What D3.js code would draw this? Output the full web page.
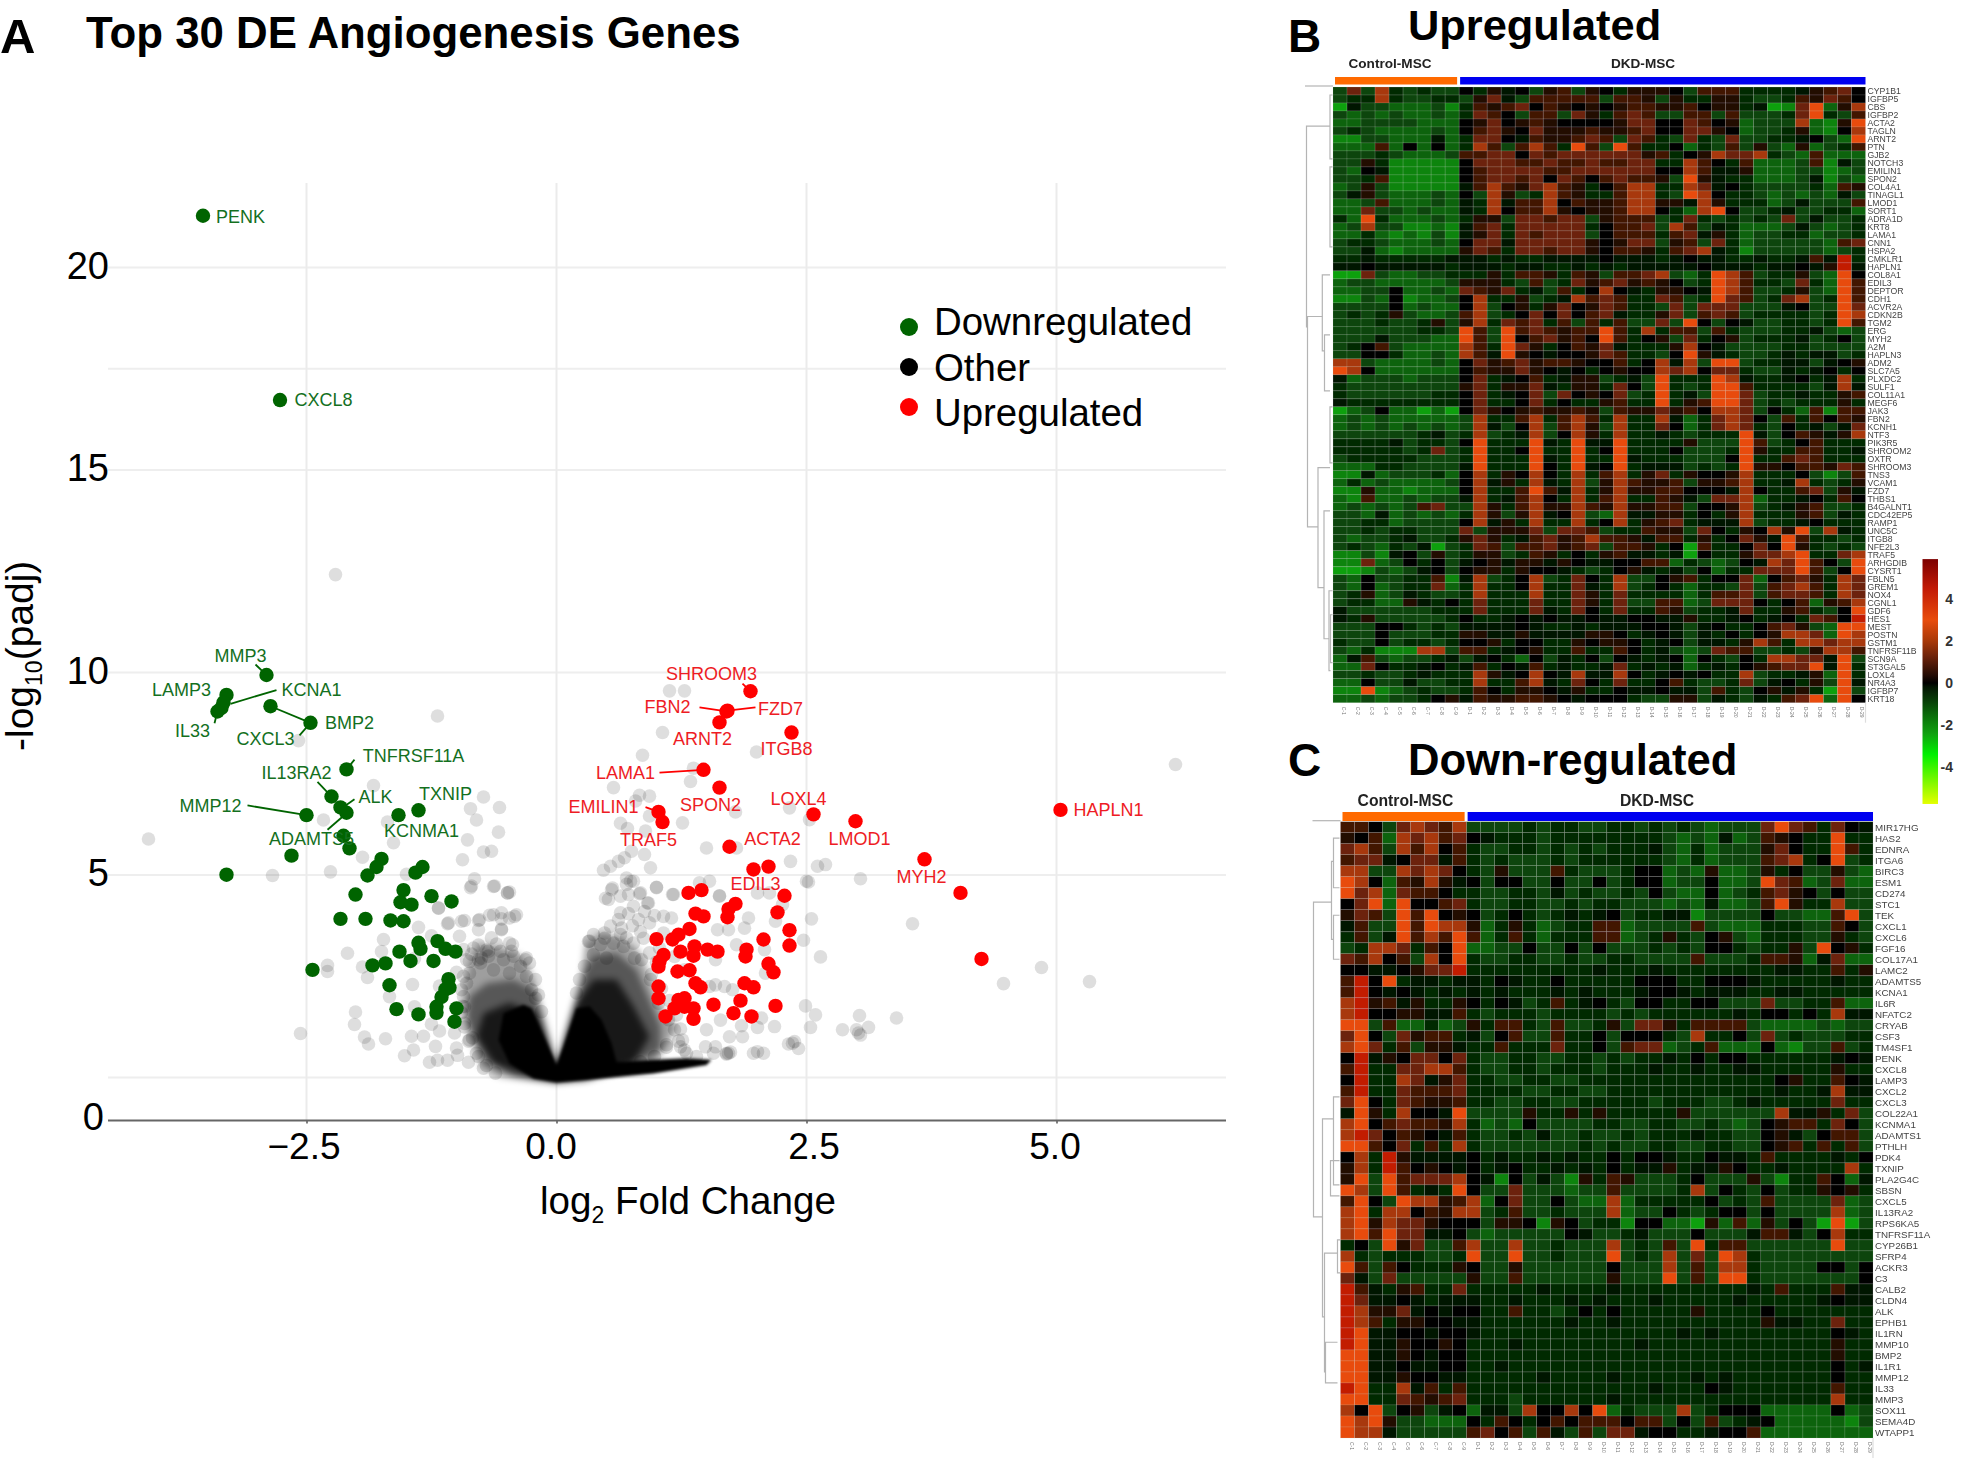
<!DOCTYPE html>
<html><head><meta charset="utf-8">
<script src="https://cdn.jsdelivr.net/npm/d3@7/dist/d3.min.js"></script>
<style>html,body{margin:0;padding:0;background:#fff}svg{display:block;font-family:"Liberation Sans",Arial,sans-serif}</style>
</head><body><div id="c"></div>
<script>
// ---------- volcano data (log2FC, -log10 padj) ----------
const downPoints=[[-3.535,21.28],[-2.765,16.73],[-2.90,9.94],[-3.30,9.45],[-3.33,9.26],[-3.35,9.13],[-3.39,9.04],[-2.86,9.17],[-2.46,8.76],[-2.10,7.61],[-2.25,6.94],[-2.16,6.67],[-2.10,6.54],[-2.50,6.48],[-1.38,6.60],[-1.58,6.48],[-2.13,5.97],[-2.07,5.66],[-2.65,5.48],[-3.30,5.01],[-1.75,5.40],[-1.80,5.20],[-1.89,4.99],[-1.34,5.20],[-1.41,5.06],[-2.01,4.52],[-1.53,4.63],[-1.56,4.33],[-1.45,4.27],[-1.25,4.48],[-1.05,4.35],[-2.16,3.92],[-1.91,3.92],[-1.66,3.88],[-1.53,3.86],[-1.38,3.33],[-1.36,3.18],[-1.19,3.37],[-1.11,3.18],[-1.01,3.11],[-1.57,3.11],[-1.46,2.88],[-1.23,2.88],[-1.71,2.82],[-1.84,2.77],[-2.44,2.66],[-1.67,2.28],[-1.08,2.43],[-1.07,2.22],[-1.11,2.18],[-1.15,1.99],[-1.60,1.69],[-1.38,1.56],[-1.20,1.75],[-1.20,1.60],[-1.0,1.71],[-1.02,1.38]];
const upPoints=[[5.04,6.61],[1.94,9.54],[1.70,9.04],[1.71,9.06],[1.63,8.77],[2.35,8.52],[1.47,7.60],[1.63,7.16],[2.57,6.50],[2.99,6.33],[1.02,6.56],[1.06,6.31],[1.73,5.70],[3.68,5.39],[4.04,4.56],[4.25,2.93],[1.97,5.14],[2.12,5.21],[2.28,4.49],[1.32,4.56],[1.45,4.63],[1.79,4.29],[1.72,4.16],[1.71,3.96],[2.21,4.08],[1.39,4.05],[1.47,3.98],[2.33,3.64],[2.33,3.26],[2.07,3.41],[1.33,3.67],[1.22,3.53],[1.16,3.41],[1.0,3.42],[1.38,3.24],[1.24,3.11],[1.37,3.01],[1.51,3.16],[1.61,3.11],[1.9,3.16],[1.89,2.99],[1.07,3.03],[1.03,2.87],[1.02,2.74],[2.12,2.81],[2.17,2.6],[1.21,2.62],[1.33,2.65],[1.39,2.33],[1.44,2.23],[1.88,2.33],[1.97,2.23],[1.02,2.25],[1.02,1.96],[1.57,1.8],[1.84,1.9],[2.19,1.77],[1.22,1.92],[1.28,1.96],[1.37,1.71],[1.18,1.71],[1.09,1.51],[1.28,1.75],[1.37,1.45],[1.77,1.59],[1.95,1.51]];
const otherPoints=[[-2.21,12.42],[-1.19,8.93],[-4.08,5.89],[-2.84,4.99],[-2.26,5.08],[-2.58,8.32],[-1.83,7.21],[-.73,6.93],[-.86,6.64],[-.57,6.67],[-.80,6.36],[-.58,6.06],[-.89,5.87],[-1.63,5.80],[-1.69,6.31],[-2.33,6.36],[-.65,5.59],[-.73,5.57],[-.94,5.38],[-1.94,5.44],[-.82,4.91],[-.86,4.69],[-.63,4.72],[-.49,4.56],[-.47,4.58],[-1.50,5.02],[-1.18,4.18],[-.67,4.01],[-.42,3.98],[-.55,3.92],[-1.09,3.80],[-.78,3.88],[-.92,3.88],[-1.38,3.71],[-1.25,3.50],[-1.73,3.41],[-1.75,3.11],[-2.09,3.07],[-.44,3.28],[-.55,3.67],[-2.29,2.77],[-2.29,2.62],[-1.94,2.73],[-1.89,2.47],[-1.44,2.30],[-1.67,2.0],[-2.01,1.62],[-2.02,1.31],[-2.56,1.09],[-1.92,1.0],[-1.88,.83],[-1.71,.96],[-1.45,1.02],[-1.33,1.02],[-1.43,.68],[-1.52,.54],[-1.27,.38],[-1.19,.43],[-1.09,.43],[-1.0,.73],[-1.21,.77],[-.88,.38],[-1.25,1.32],[-1.17,1.15],[-1.42,1.75],[-.84,.98],[-1.0,2.6],[-1.17,2.26],[-1.42,2.94],
[-.85,4.73],[-.62,4.73],[-.49,4.56],[-1.18,4.19],[-1.08,3.82],[-.95,3.86],[-.77,3.90],[-.63,4.02],[-.55,4.07],[-.40,4.02],[-.47,3.94],[-.78,3.65],[-.55,3.65],[-.97,3.49],[-.65,3.45],[-.47,3.32],[-.78,3.27],[-.93,3.16],[-.56,3.12],[-.68,3.0],[-.43,3.0],[-.31,2.91],[-.87,2.87],[-.76,2.83],[-.53,2.91],[-.36,2.75],[-.87,2.58],[-.63,2.66],[-.47,2.58],[-.30,2.5],[-.25,2.17],[-.21,1.96],[-.9,2.33],[-.93,2.0],[-.95,1.6],[-.92,1.25],[-.88,.9],[-.8,.6],[-.7,.3],[-.92,1.75],[-1.02,1.1],[-.99,.55],[-.75,2.95],[-.7,3.15],[-.6,3.3],[-.85,3.05],
[-.9,2.91],[-.93,2.5],[-.95,2.17],[-.94,1.76],[-.92,1.34],[-.87,.93],[-.78,.52],[-.73,.23],[-.61,.11],[-.27,2.83],[-.21,2.42],[-.18,2.04],[-.15,1.63],[-.3,2.95],[-.45,3.12],[-.68,3.12],[-.78,2.91],[-.83,3.2],
[.2,2.09],[.23,2.42],[.28,2.75],[.32,3.36],[.37,3.53],[.48,3.57],[.64,3.53],[.77,3.32],[.85,2.91],[.94,2.42],[1.02,1.84],[1.12,1.43],[1.18,1.18],[1.1,.81],[.98,.52],[.84,.39],[1.24,.76],[1.3,.6],[1.4,.52],[1.57,.6],[1.7,.6],
[.55,4.64],[.70,4.77],[.77,4.85],[.52,4.4],[.64,4.48],[.72,4.52],[.84,4.56],[1.0,4.69],[1.17,4.52],[1.63,4.48],[.77,4.23],[.92,4.31],[.64,4.07],[.82,3.9],[1.07,3.98],[1.15,3.94],[.54,3.74],[.65,3.69],[.93,3.82],[.48,3.44],[.33,3.37],[.44,3.29],[.57,3.32],[1.07,3.57],[.87,3.44],[.67,3.24],[.78,2.95],[.37,3.03],[.5,2.95],[.93,3.08],[.76,3.75],[.84,3.6],[.7,3.45],[.62,3.9],[.72,4.05],[.88,4.1],[.98,4.0],[1.03,3.2],[1.0,2.85],[.95,2.55],[1.05,2.2],[1.13,1.9],[1.2,1.55],[1.24,1.2],[1.22,.9],[1.1,.75],
[1.13,9.55],[1.28,9.55],[1.06,8.52],[.86,7.96],[2.0,8.04],[1.37,7.64],[1.34,7.31],[.57,7.16],[.83,6.97],[.93,6.95],[.79,6.83],[.93,6.46],[1.26,6.29],[.64,6.28],[.71,6.15],[.89,6.09],[2.33,6.66],[2.53,6.37],[1.79,6.56],[1.50,5.67],[1.8,5.67],[.75,5.59],[.88,5.51],[.68,5.43],[.62,5.34],[.54,5.22],[.47,5.12],[.94,5.18],[2.34,5.34],[2.61,5.22],[2.69,5.26],[3.04,4.91],[2.5,4.85],[2.52,4.83],[1.0,4.7],[.56,4.68],[.7,4.93],[.74,4.85],[.83,4.54],[1.16,4.52],[1.43,4.81],[1.53,4.85],[1.63,4.49],[2.13,4.56],[2.01,4.56],[2.26,4.27],[.49,4.43],[.91,4.31],[2.55,3.92],[3.56,3.8],[1.92,3.94],[2.19,3.86],[1.61,3.65],[1.72,3.65],[1.88,3.69],[1.8,3.28],[2.08,3.16],[2.47,3.39],[2.64,2.98],[1.59,2.91],[4.85,2.72],[4.47,2.32],[5.33,2.37],[1.68,2.25],[6.19,7.73],[2.49,1.77],[2.59,1.55],[3.03,1.53],[3.4,1.47],[2.54,1.24],[2.86,1.18],[3.0,1.18],[3.12,1.24],[3.04,1.05],[3.02,1.1],[2.38,.89],[2.32,.83],[2.42,.72],[2.36,.85],[1.72,.6],[1.74,.63],[1.7,.58],[2.01,.64],[2.07,.6],[1.97,.6],[1.85,1.28],[2.01,1.24],[2.18,1.26],[1.64,1.42],[1.73,1.01],[1.86,1.01],[1.5,1.18],[1.26,.93],[1.28,.68],[1.59,.76],[1.49,.76],[2.05,1.47],[1.76,2.17],[1.59,2.29],[2.09,2.58],[1.53,2.25],[1.28,2.66],[1.18,2.99]];
// density envelopes of the "Other" mass
const massFaint=[[[0,.31],[-.17,1.92],[-.25,2.58],[-.36,3.03],[-.56,3.2],[-.78,3.32],[-.87,2.83],[-.93,2.25],[-.93,1.59],[-.87,1.01],[-.75,.27],[-.56,.02],[-.23,-.06],[0,-.12]],[[0,.31],[.17,1.84],[.25,2.42],[.29,3.32],[.44,3.57],[.64,3.49],[.84,3.08],[.93,2.5],[1.04,1.76],[1.2,1.26],[1.1,.77],[.97,.35],[.3,-.06],[0,-.12]]];
const massMid=[[[0,.31],[-.15,1.51],[-.23,2.17],[-.43,2.42],[-.7,2.33],[-.87,2.0],[-.9,1.43],[-.82,.93],[-.7,.39],[-.43,.02],[0,-.12]],[[0,.31],[.2,1.92],[.27,2.58],[.37,2.99],[.6,3.08],[.8,2.66],[.9,2.08],[1.04,1.26],[1.04,.68],[.77,.35],[0,-.12]]];
const massDense=[[[0,.31],[-.2,1.59],[-.47,1.84],[-.73,1.59],[-.8,1.01],[-.63,.35],[-.23,-.02],[0,-.12]],[[.03,.52],[.2,1.84],[.37,2.42],[.6,2.42],[.77,1.76],[.93,1.01],[.77,.35],[.3,-.06],[0,-.12]]];
const massSolid=[[0,.31],[-.25,1.71],[-.33,1.80],[-.53,1.59],[-.58,.93],[-.47,.35],[-.23,-.02],[0,-.12],[.30,-.06],[.97,.1],[1.5,.31],[1.55,.44],[1.3,.48],[.97,.44],[.6,.39],[.55,.85],[.45,1.43],[.33,1.76],[.2,1.71],[.07,.77]];
const downLabels=[["PENK",-3.16,21.25],["CXCL8",-2.33,16.72],["MMP3",-3.16,10.41],["LAMP3",-3.75,9.57],["KCNA1",-2.45,9.57],["IL33",-3.64,8.57],["BMP2",-2.07,8.76],["CXCL3",-2.91,8.36],["TNFRSF11A",-1.43,7.93],["IL13RA2",-2.6,7.51],["ALK",-1.81,6.93],["TXNIP",-1.11,7.0],["MMP12",-3.46,6.70],["ADAMTS5",-2.45,5.90],["KCNMA1",-1.35,6.08]];
const upLabels=[["SHROOM3",1.55,9.96],["FBN2",1.11,9.14],["FZD7",2.24,9.11],["ARNT2",1.46,8.36],["ITGB8",2.3,8.11],["LAMA1",.69,7.53],["EMILIN1",.47,6.68],["SPON2",1.54,6.72],["LOXL4",2.42,6.87],["TRAF5",.92,5.86],["ACTA2",2.16,5.88],["LMOD1",3.03,5.9],["MYH2",3.65,4.95],["EDIL3",1.99,4.78],["HAPLN1",5.52,6.6]];
const downLinks=[[-3.01,10.2,-2.90,9.94],[-2.8,9.57,-3.26,9.23],[-3.42,8.75,-3.39,9.04],[-2.86,9.17,-2.46,8.76],[-2.57,8.45,-2.46,8.76],[-2.02,7.85,-2.10,7.61],[-2.39,7.3,-2.25,6.94],[-2.02,6.87,-2.12,6.7],[-3.09,6.72,-2.50,6.48],[-2.29,6.12,-2.14,6.44]];
const upLinks=[[1.86,9.73,1.94,9.54],[1.43,9.14,1.70,9.04],[1.99,9.14,1.71,9.06],[1.03,7.53,1.47,7.60],[.89,6.68,1.02,6.56]];
const xTickValues=[-2.5,0,2.5,5];
const xTickNudge=[-3,-6,7,-2];
const yTickValues=[0,5,10,15,20];
const yGridValues=[0,5,10,15,17.5,20];
const legendNames=["Downregulated","Other","Upregulated"];
const legendColors=["#006400","#000000","#ff0000"];
// ---------- heat map data ----------
const sampleGroups=["Control-MSC","DKD-MSC"];
const controlCount=9;
const levelValues={a:-2.4,b:-1.9,c:-1.4,d:-.95,e:-.55,f:-.2,g:0,h:.35,i:.75,j:1.25,k:2,l:3,m:4.5,n:5.5};
const colorStops=[[-5.76,"#e4ff00"],[-3.4,"#00f000"],[-2.4,"#10a010"],[-1.9,"#0c840c"],[-1.4,"#0a640a"],[-.95,"#084508"],[-.55,"#062c06"],[-.2,"#031603"],[0,"#000000"],[.35,"#220b04"],[.75,"#431506"],[1.25,"#6c220a"],[2,"#a83808"],[3,"#e84c0c"],[4.5,"#c21a06"],[5.9,"#7c0000"]];
const colorbarTicks=[4,2,0,-2,-4];
const upGenes=["CYP1B1","IGFBP5","CBS","IGFBP2","ACTA2","TAGLN","ARNT2","PTN","GJB2","NOTCH3","EMILIN1","SPON2","COL4A1","TINAGL1","LMOD1","SORT1","ADRA1D","KRT8","LAMA1","CNN1","HSPA2","CMKLR1","HAPLN1","COL8A1","EDIL3","DEPTOR","CDH1","ACVR2A","CDKN2B","TGM2","ERG","MYH2","A2M","HAPLN3","ADM2","SLC7A5","PLXDC2","SULF1","COL11A1","MEGF6","JAK3","FBN2","KCNH1","NTF3","PIK3R5","SHROOM2","OXTR","SHROOM3","TNS3","VCAM1","FZD7","THBS1","B4GALNT1","CDC42EP5","RAMP1","UNC5C","ITGB8","NFE2L3","TRAF5","ARHGDIB","CYSRT1","FBLN5","GREM1","NOX4","CGNL1","GDF6","HES1","MEST","POSTN","GSTM1","TNFRSF11B","SCN9A","ST3GAL5","LOXL4","NR4A3","IGFBP7","KRT18"];
const upLevels=[
"djdkededd gehfgdhidh gehhhgdiii eeeefhijg",
"deekeddee dhjfdiiiii diihdheehh eddeihjig",
"afddcccdb eihijgihgh ghiihhighh efabjlchk",
"dcdcdccdc ejigdiidjh eijiddiidi dddejledi",
"ccddddccc ghjghihggg ghjjggjigh cdddkcbhl",
"dedccccdc gijhgjhhhi hhijggjjhg cddehcbgk",
"bbddcccfc ejjgfihhij idjiedjedj ddeefgdcl",
"cccicgcgc ekidikieli dlieegcedi dhdchcdei",
"dddedcccd iijjgjijjj jjjhieghkj jkedciccc",
"ddhebbbbb gjjjiijiij iijjeekige icccdibfd",
"dcgfbbbbb gijjjjiijj jjjjggkiff hcccddbcd",
"ddeibbbbb gijjijgjig ijiihdlhfe ecccdfbdc",
"cdhdbbbbb fikihjkihe gikkeekjfg eddddecih",
"dfhdcccdc gdkhdekihe eikkedlkge edcdcdcfd",
"ccdicccdc fekfiikgih hikkhhfkhe eecdfdddi",
"ccjddcdcc fekgiikhgh hikkgecklg ddefddeec",
"eclecccdc ehhdjjijjd hiiidejede dedjdfdde",
"cdkddbbcb fijejjjjje giijdkidfe cccdfdcde",
"ccecbcbdb fhjejijjjd giiieijfhe cddeecdde",
"deedcccdc gjjfjjjjjh ghjjdhidje cdddddcij",
"ddfcbcccc hjiejjijjh giiheijkfe bdddddcde",
"eefeeeeef ffefeeffff gfffefgffe efeefifme",
"ffgfffffe fffeffeefe fefffffgff feffgfhmf",
"aajdccdde eeheiiheih diijkdcelk ideehdclg",
"cddcccccd hhhedidejh ijhihgdelk ieedjecli",
"ccddgccdc jihjefdieg kgfehhgflk iddehdcli",
"bbdcgbccd gkeehdefki jieejidelj idejkdeli",
"ddddgcdcc gkdghehjgh jieedjdjjj dddfgddlj",
"dedehdccd ikdegjgjgi jfeehjdiji deeeedelk",
"dddeddehd hkejijeidi eiddjdlgdg fddeedeli",
"ddddddeed lidlijihii liekeiidie dddeefdcd",
"dddfdddcc lidlgijhig lieghdjegh deeefdegd",
"degidcccc kieljhegih jfeeehkgfd dddeedddd",
"ddggeccdc kiflhgfggh jieedglhfe ddefeffde",
"kkdccccdc gjhijhiihg giegkfkdll deeffdfgh",
"lkgcccccc gihhjhgfge ghggkjkgjj eddfefgeg",
"fcdddcddd gjefgiefhh defdleeelk feefgefke",
"edddddddd hjehhjfehh ejgdledell ieeeedfkf",
"eddddddee gjefgjdjgh gjdelefdll jdeefeehi",
"feeeeeeee gjeegjegee hieelehill jdedeeehe",
"acdgccaca gjhghihhih dihhjhigkk jdgecibii",
"cdcdccccc dkeeikeiki ekeekfcejk jgdieigih",
"cdcdcdcdc dkfdgkdikh dkeejgcejk jedgefdfj",
"ddddddefd ekdefkdgkh ekeefedeee lfdgihfhk",
"eeeefdeed gleeelfelf fleeeehddd lidegieee",
"eeeeedejd eleegleele gleeegddde lheeiieef",
"deeeeeddd eleeelfele elfeeedddg leeijieee",
"ccceedddd fleeelgelf glefffdede lhhgiihji",
"bbfcdddec gkehgkgeke ikehjehggh keeegdbdi",
"cecdccccd gkfhekfekd hkihhidhhi keefkedeh",
"bbhccbccc gkeeilifke hkhhiigggf kgeeijdhf",
"cbiccdcdd fkefikgeke ikeeihfdjj kceefgeig",
"cdcdcdijd dkheikhhki hkhhiidggh kdefhidde",
"ddcfcdcdc ekhdhkfgkd ckffhhegeh keeehidfe",
"ddeecdddd gkfhekeeke gkehijefff kdeefgeee",
"ddedeeddd jdhhhjdjji deeihhdjge hgkhldkfe",
"dcddefdde hjhefijhik iihfiieheg jhflieede",
"dedcedfad ejidiijhij diihegaiee gjglheded",
"bbdbfgdhd ehhdeihege hiffefagee hjjkleejk",
"bbjcdgegd fghfhhfhgf fggiicedcd gfkjligdl",
"aabdcdfgd ghhehggfed eghfefdgce ejjjlidgl",
"dcgddeeib fkdegkdejg ekddghiegg jcgijhekj",
"dcgcdeejc ekeegkeejf ekdegeceed jdijkiekj",
"dehcdfedd ekeeekeejh ejeeeeceii jdijjiekj",
"deecchfeg ejeeejeejh ejddiicdjj jgegichik",
"fddddddee ejeeejfejg ejeeihdeef jeehiedgl",
"fehddddde geefgfgffg ffggffheef gefgejigm",
"dddggeded ffffgfeefe fffggfdfge egijhdcll",
"dddgdddee hhffhffffh hgefgfdfeg eghkkjclk",
"eddgdeede ggheggeehg hhgefgdffe hkiekkjkk",
"dcebbbkkd iiefgheeie eigefdcdji iddedhkki",
"cfidcddef dfgecgdfeg dgfefgcged gekkjjfld",
"ccjgeefge fiegfiefee fjefefcefe ghijjlfle",
"ddeddefee ekhfgkgfkf fkgefgfgee kdeefhcle",
"ccgddfdde ekeeikfejg ejeegiedde jdfgehdlf",
"bblbcdedd eigehhgfhe egffgffdie dghfheald",
"ccdcddegh fihhiihgfg ggeddhhdfe dfeijlclg"];
const downGenes=["MIR17HG","HAS2","EDNRA","ITGA6","BIRC3","ESM1","CD274","STC1","TEK","CXCL1","CXCL6","FGF16","COL17A1","LAMC2","ADAMTS5","KCNA1","IL6R","NFATC2","CRYAB","CSF3","TM4SF1","PENK","CXCL8","LAMP3","CXCL2","CXCL3","COL22A1","KCNMA1","ADAMTS1","PTHLH","PDK4","TXNIP","PLA2G4C","SBSN","CXCL5","IL13RA2","RPS6KA5","TNFRSF11A","CYP26B1","SFRP4","ACKR3","C3","CALB2","CLDN4","ALK","EPHB1","IL1RN","MMP10","BMP2","IL1R1","MMP12","IL33","MMP3","SOX11","SEMA4D","WTAPP1"];
const downLevels=[
"iigdjkjik ddddedeedd eedededcdd djljiejgf",
"hgickjkij gfeeedeeee eeeedcdcfc dihgeelee",
"jkidkikgi eddeededed eeefdcecdd dhjgeelie",
"ijjfgjjfi ededddedee eeeedcecdd dijkeglde",
"kkddkjkjg edhdddiedd deggcdchcc dhegddhdc",
"lkgcihkhf gdggddgddg deggcddgcc dljicdjcc",
"ljkcjiige eddeedfded dedgdccgcd eijhgdgdd",
"gjlclggij eddeeddede edddcdcfcc dilheekdd",
"hjidlilgh gdegedefef gdeeffbddd dgddccild",
"fiddlilkk hcehecdeei icddddidcc ceeeddigd",
"eidflikil iceieceeei icdehedghd ceeeddhed",
"dekkjeigl ccddgddgdg dddededgge deehdlghe",
"jikgidkgl eddeeddedd eeddddiddd eiihcfjcc",
"ggffghjjm eeeeeeeeef eeefeeeeee eeffeeieh",
"imgleffef fegfeegeee eegggeeggg feeeeefee",
"imgfgfefe fefeeefefe eefggfefff eeffeeeee",
"kmhifheeh gegfdeiefg edggeeggdd djddeeicc",
"kmgghhffi edeeedeeee dedeeeeeef eggegekff",
"lldiccecd heiiedidde hdjjheiiii dccccdcdd",
"jlgdjhiie fdgiddieeg dgggedkeeg djdedddee",
"kljeidhhf eeieeejeeg dijjcdeicc cgcbddide",
"gmfhgjjgj eddeeddeed edeefegegg eeeeeefgf",
"imeejjkki eddeedeeed eeefeefeef feeeeehee",
"gmeekjfhj eeddeeddee eeeeeeeeee eegheeigf",
"imeejiiij eeeeddeedd eeeeeeeeee eefeefkff",
"jlgejihhi eeddeeddee eeedeeedde feeeeejee",
"flhekggfl ddddheeheh eeeeehdddd ddkffhejd",
"klgijiihk ecdcgdddde eddeeddedc dghiiejgd",
"kmjgihgfi eddedfdded dedeeefeed dghfdgiid",
"lligjeiek eddddddded eddeeddeed dghieieid",
"gkemhffff gefeefefee geggfeegff eieeeefeg",
"hkemighgf gefgeefefe geffheffhg eefeeeeke",
"hldlijjjk gfbgdfdbhe ihdddegddd hdbeeigcf",
"lkdliefel gddjdddcdd iddddekdge dgdeehghe",
"ilgdlkkhi kcgjddgdcc kceeeeegde diddddjcd",
"klekkgihk kdeiddeddd kcddgedegg dgddddkcd",
"klhkjjhgg gdhhgbhgde ebggccahci chdgdalad",
"kliljjffg dcdddddgfd defdddgddd fiifdgkee",
"egdlhjddi kddkddeddd kdedidleii ddddddldd",
"kedeeedde lddlddeddd ldedkdjdlk edddddddd",
"lidigeeeh gddhdddddd gdddkdidkk eddddggdg",
"jfdjddddd hddidddddd hdddldidll edddddddg",
"mifehieej eeeeefeeee feeeeeeeee feieeeiff",
"mjffgfeff feefeeefef eeefeeeeef eeeeefgff",
"mkhhjfgfg geeieedege geeeeeheee egeeeeeee",
"mkiehhggf feeeeeefee feeeeeeeee ehffeejee",
"mlffggfgg feeeeeeeee eeeeefefee eeeeeegfe",
"mlffhgghg eeefeeeeee eefeeeeeee eeeeeehee",
"llffhgfgg eeeeeeeeee eeeeeeeeee eeeeeehee",
"llffgffgg eefeeeeeee eeeeeeeeee eeeeeegef",
"llffhggff eeeeefeeee feeeeefefe eeeeeegee",
"mleekfiei eeeeeeeeee eeefeeegfe eeeeeeiee",
"lleejihij eeedeeeeee feeeeeeeee eeeeeekee",
"kgldghdfg cffdkggkgl cedddkdegg gcccccgcd",
"lklhddccc geigegigii igiidgdide fgcccccbd",
"lkkfddddd ijgidifdid jjfggeefgg icccccccc"];
// dendrogram brackets: [height, row a, child height a, row b, child height b]
const upTree=[[26.5,4.9,3,30,25.5],[25.5,28.7,10.7,55,15],[10.7,23.5,3,33,8.5],[8.5,31,3,38,3],[15,47.6,3,62.6,9],[9,53,3,69,4],[4,63,.5,73,2.5],[3,1,.5,9,.5],[3,10,.5,20,.5],[3,40,.5,47,.5],[2.5,66,.5,72,.5]];
const downTree=[[27,7.3,9,35.9,18],[9,3.6,7,10.7,7],[7,1.5,1,6,1],[7,8.5,1,12.5,1],[18,27,7,45,16],[7,25,1,33,1],[10,30.8,1,34,1],[16,39.2,3,50,15],[3,38,.5,41,.5],[15,47.3,3,51,3]];

// ---------- page ----------
const W=1961,H=1458;
const svg=d3.select("#c").append("svg").attr("width",W).attr("height",H).attr("viewBox",`0 0 ${W} ${H}`);
const defs=svg.append("defs");
[["b05",.5],["b1",1.4],["b5",3.5]].forEach(([id,s])=>defs.append("filter").attr("id",id).attr("x","-10%").attr("y","-10%").attr("width","120%").attr("height","120%").append("feGaussianBlur").attr("stdDeviation",s));
const bold=(t,x,y,s)=>svg.append("text").attr("x",x).attr("y",y).attr("font-size",s).attr("font-weight","bold").text(t);
bold("A",0,53,49);bold("Top 30 DE Angiogenesis Genes",86,48,43.8);
bold("B",1288,52,46);bold("Upregulated",1408,39.5,43.4);
bold("C",1288,776,46);bold("Down-regulated",1408,775,43.6);

// volcano
const x=d3.scaleLinear().domain([-2.5,5]).range([306.5,1056.5]);
const y=d3.scaleLinear().domain([0,20]).range([1077.6,267.6]);
const gv=svg.append("g");
gv.selectAll("line.h").data(yGridValues).join("line").attr("class","h").attr("x1",108).attr("x2",1226).attr("y1",d=>y(d)).attr("y2",d=>y(d)).attr("stroke","#eeeeee").attr("stroke-width",2);
gv.selectAll("line.v").data(xTickValues).join("line").attr("class","v").attr("x1",d=>x(d)).attr("x2",d=>x(d)).attr("y1",183).attr("y2",1120).attr("stroke","#ebebeb").attr("stroke-width",2);
const poly=d3.line().x(d=>x(d[0])).y(d=>y(d[1])).curve(d3.curveLinearClosed);
const gm=gv.append("g").attr("filter","url(#b5)");
massFaint.forEach(p=>gm.append("path").attr("d",poly(p)).attr("fill","#000").attr("opacity",.38));
massMid.forEach(p=>gm.append("path").attr("d",poly(p)).attr("fill","#000").attr("opacity",.45));
massDense.forEach(p=>gm.append("path").attr("d",poly(p)).attr("fill","#000").attr("opacity",.72));
gv.selectAll("circle.o").data(otherPoints).join("circle").attr("class","o").attr("cx",d=>x(d[0])).attr("cy",d=>y(d[1])).attr("r",6.8).attr("fill","#000").attr("fill-opacity",.13);
gv.append("path").attr("d",poly(massSolid)).attr("fill","#000").attr("filter","url(#b1)");
const axis=d3.axisBottom(x).tickValues(xTickValues).tickSize(3).tickFormat(d3.format(".1f"));
const ga=svg.append("g").attr("transform","translate(0,1120.5)").call(axis);
ga.select(".domain").remove();
svg.append("line").attr("x1",108).attr("x2",1226).attr("y1",1120.5).attr("y2",1120.5).attr("stroke","#666").attr("stroke-width",2);
ga.selectAll(".tick line").attr("stroke","#555").attr("stroke-width",1.5);
ga.selectAll(".tick text").attr("font-family","Liberation Sans").attr("font-size",37).attr("fill","#000").attr("y",12).attr("dy",".71em").attr("dx",(d,i)=>xTickNudge[i]).text(d=>d3.format(".1f")(d));
svg.selectAll("text.yt").data(yTickValues).join("text").attr("class","yt").attr("x",d=>d===0?104:109).attr("y",d=>d===0?1117:y(d)-2).attr("text-anchor","end").attr("dominant-baseline","central").attr("font-size",38).text(d=>d);
const xt=svg.append("text").attr("x",540).attr("y",1214).attr("font-size",38.6);
xt.append("tspan").text("log");xt.append("tspan").attr("font-size",23).attr("dy",9).text("2");xt.append("tspan").attr("dy",-9).text(" Fold Change");
const yt=svg.append("text").attr("transform","translate(33,751) rotate(-90)").attr("font-size",39);
yt.append("tspan").text("-log");yt.append("tspan").attr("font-size",23).attr("dy",9).text("10");yt.append("tspan").attr("dy",-9).text("(padj)");
const seg=(g,data,c)=>g.selectAll("line.l").data(data).join("line").attr("class","l").attr("x1",d=>x(d[0])).attr("y1",d=>y(d[1])).attr("x2",d=>x(d[2])).attr("y2",d=>y(d[3])).attr("stroke",c).attr("stroke-width",1.8);
const gd=svg.append("g"),gu=svg.append("g");
seg(gd,downLinks,"#006400");seg(gu,upLinks,"#ff0000");
gd.selectAll("circle").data(downPoints).join("circle").attr("cx",d=>x(d[0])).attr("cy",d=>y(d[1])).attr("r",7.2).attr("fill","#006400");
gu.selectAll("circle").data(upPoints).join("circle").attr("cx",d=>x(d[0])).attr("cy",d=>y(d[1])).attr("r",7.2).attr("fill","#ff0000");
const lab=(g,data,c)=>g.selectAll("text").data(data).join("text").attr("x",d=>x(d[1])).attr("y",d=>y(d[2])).attr("text-anchor","middle").attr("dominant-baseline","central").attr("font-size",18).attr("fill",c).text(d=>d[0]);
lab(gd,downLabels,"#14701e");lab(gu,upLabels,"#ee1c24");
// legend
const lg=svg.append("g");
legendNames.forEach((n,i)=>{
  lg.append("circle").attr("cx",909).attr("cy",[327,367,407][i]).attr("r",9).attr("fill",legendColors[i]);
  lg.append("text").attr("x",934).attr("y",[335,381,426][i]).attr("font-size",38.4).text(n);
});

// heat maps
const colour=d3.scaleLinear().domain(colorStops.map(d=>d[0])).range(colorStops.map(d=>d[1]));
const problems=[];
function heat(o){
  const rows=o.levels.map(s=>s.replace(/ /g,""));
  rows.forEach((r,i)=>{if(r.length!==38)problems.push(o.name+" row "+i+" len "+r.length);});
  if(rows.length!==o.genes.length)problems.push(o.name+" rows "+rows.length+" genes "+o.genes.length);
  const cx=d3.scaleBand().domain(d3.range(38)).range([o.left,o.right]);
  const cy=d3.scaleBand().domain(d3.range(rows.length)).range([o.top,o.bottom]);
  const g=svg.append("g").attr("filter","url(#b05)");
  rows.forEach((r,i)=>{
    g.append("g").selectAll("rect").data(r.split("")).join("rect").attr("x",(d,j)=>cx(j)).attr("y",cy(i)).attr("width",cx.bandwidth()).attr("height",cy.bandwidth())
      .attr("fill",d=>colour(levelValues[d])).attr("stroke","#c8c8c8").attr("stroke-opacity",.28).attr("stroke-width",.6);
  });
  const bar=cx.step()*controlCount;
  g.append("rect").attr("x",o.left+2).attr("y",o.barY).attr("width",bar-4).attr("height",o.barH).attr("fill","#ff6a00");
  g.append("rect").attr("x",o.left+bar+1).attr("y",o.barY).attr("width",o.right-o.left-bar-1).attr("height",o.barH).attr("fill","#0000f0");
  g.append("text").attr("x",o.c1).attr("y",o.barY-o.gap).attr("text-anchor","middle").attr("font-size",o.gs).attr("font-weight","bold").attr("fill","#222").text(sampleGroups[0]);
  g.append("text").attr("x",o.c2).attr("y",o.barY-o.gap).attr("text-anchor","middle").attr("font-size",o.gs).attr("font-weight","bold").attr("fill","#222").text(sampleGroups[1]);
  g.append("g").selectAll("text").data(o.genes).join("text").attr("x",o.right+2).attr("y",(d,i)=>cy(i)+cy.bandwidth()/2).attr("dominant-baseline","central").attr("font-size",o.fs).attr("fill","#444").text(d=>d);
  g.append("g").selectAll("text").data(d3.range(38)).join("text").attr("transform",d=>`translate(${cx(d)+cx.bandwidth()/2+2},${o.bottom+4}) rotate(90)`).attr("font-size",5).attr("fill","#777").text(d=>d<controlCount?"C-"+(d+1):"D-"+(d-controlCount+1));
  const rowY=d3.scaleLinear().domain([0,rows.length]).range([o.top,o.bottom]);
  const depth=h=>o.left-h;
  const tg=svg.append("g").attr("fill","none").attr("stroke","#b4b4b4").attr("stroke-width",1.2).attr("filter","url(#b05)");
  o.tree.forEach(t=>tg.append("path").attr("d",`M${depth(t[2])},${rowY(t[1])}H${depth(t[0])}V${rowY(t[3])}H${depth(t[4])}`));
  tg.append("path").attr("d",`M${depth(28)},${o.top-1}H${o.left}`);
  tg.append("path").attr("d",`M${o.right},${o.bottom}V${o.bottom+20}`).attr("stroke","#ddd");
}
heat({name:"up",levels:upLevels,genes:upGenes,left:1333,right:1865.5,top:87,bottom:702.7,barY:77,barH:7.5,gap:9,c1:1390,c2:1643,gs:13.6,fs:8.7,tree:upTree});
heat({name:"down",levels:downLevels,genes:downGenes,left:1340.5,right:1873,top:821.7,bottom:1438,barY:812,barH:9,gap:6,c1:1405.5,c2:1657,gs:15.7,fs:9.8,tree:downTree});
// colour bar
const cb=d3.scaleLinear().domain([-4,4]).range([767,599]);
const grad=defs.append("linearGradient").attr("id","cbg").attr("x1",0).attr("x2",0).attr("y1",0).attr("y2",1);
const cbTop=cb(5.9),cbBottom=cb(-5.76);
colorStops.slice().reverse().forEach(s=>grad.append("stop").attr("offset",(cb(s[0])-cbTop)/(cbBottom-cbTop)).attr("stop-color",s[1]));
svg.append("rect").attr("x",1922.5).attr("y",cbTop).attr("width",15.5).attr("height",cbBottom-cbTop).attr("fill","url(#cbg)");
svg.selectAll("text.cb").data(colorbarTicks).join("text").attr("class","cb").attr("x",1953).attr("y",d=>cb(d)).attr("text-anchor","end").attr("dominant-baseline","central").attr("font-size",14).attr("font-weight","bold").attr("fill","#333").text(d=>d);
if(problems.length)throw new Error(problems.join("; "));
</script></body></html>
